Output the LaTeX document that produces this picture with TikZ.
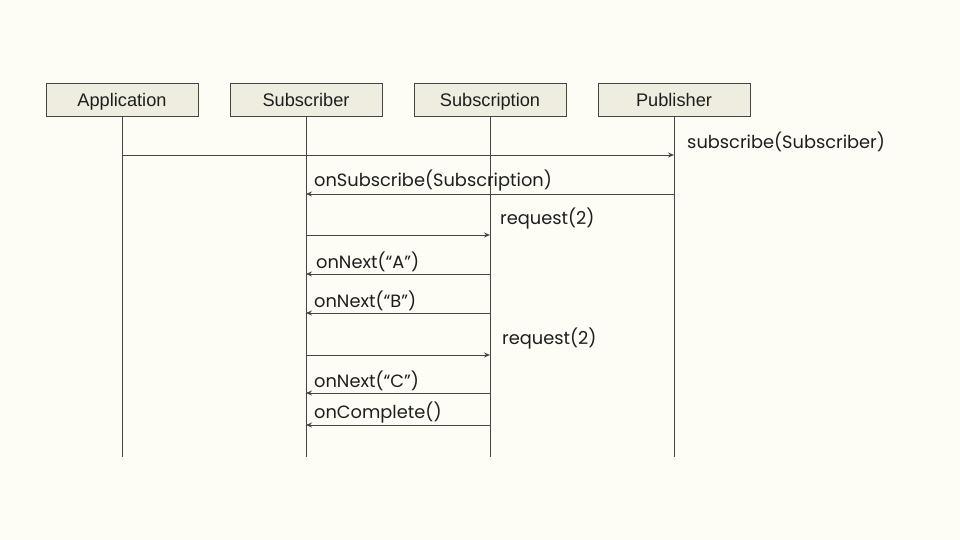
\documentclass[tikz,border=0pt]{standalone}
\usepackage{fontspec}
\usetikzlibrary{arrows.meta}
\setmainfont{Liberation Sans}
\newfontfamily\msgfont{Poppins}
\definecolor{bgcol}{HTML}{FDFDF6}
\definecolor{boxcol}{HTML}{EEEDE0}
\definecolor{linecol}{HTML}{454545}
\definecolor{txtcol}{HTML}{1E1E1E}
\begin{document}
\begin{tikzpicture}[x=1pt,y=-1pt,
 obj/.style={draw=linecol, fill=boxcol, line width=0.9pt, minimum width=152pt, minimum height=33pt, inner sep=0pt, text height=14.5pt, text depth=0pt, text=txtcol, font=\fontsize{18.2}{18}\selectfont},
 msg/.style={anchor=west, inner sep=0pt, text=txtcol, font=\msgfont\fontsize{17.8}{18}\selectfont},
 life/.style={draw=linecol, line width=0.9pt},
 call/.style={draw=linecol, line width=0.9pt, ->, >={Stealth[length=6pt,width=5pt]}}]
 \useasboundingbox[fill=bgcol] (0,0) rectangle (960,540); %背景
 \node[obj] (app) at (122,99.5) {Application}; %オブジェクト
 \node[obj] (sub) at (306,99.5) {Subscriber};
 \node[obj] (subn) at (490,99.5) {Subscription};
 \node[obj] (pub) at (674,99.5) {Publisher};
 \coordinate (appE) at (122,457); %ライフライン終点
 \coordinate (subE) at (306,457);
 \coordinate (subnE) at (490,457);
 \coordinate (pubE) at (674,457);
 \draw[life] (app)--(appE); %ライフライン
 \draw[life] (sub)--(subE);
 \draw[life] (subn)--(subnE);
 \draw[life] (pub)--(pubE);
 \coordinate (m1a) at (122,155); %subscribe
 \coordinate (m1b) at (674,155);
 \draw[call] (m1a)--(m1b);
 \node[msg] (l1) at (687,141.5) {subscribe(Subscriber)};
 \coordinate (m2a) at (674,194); %onSubscribe
 \coordinate (m2b) at (306,194);
 \draw[call] (m2a)--(m2b);
 \node[msg] (l2) at (314,180.5) {onSubscribe(Subscription)};
 \coordinate (m3a) at (306,235); %request
 \coordinate (m3b) at (490,235);
 \draw[call] (m3a)--(m3b);
 \node[msg] (l3) at (500,218.5) {request(2)};
 \coordinate (m4a) at (490,274); %onNext A
 \coordinate (m4b) at (306,274);
 \draw[call] (m4a)--(m4b);
 \node[msg] (l4) at (316,261.5) {onNext(“A”)};
 \coordinate (m5a) at (490,313); %onNext B
 \coordinate (m5b) at (306,313);
 \draw[call] (m5a)--(m5b);
 \node[msg] (l5) at (314,300.5) {onNext(“B”)};
 \coordinate (m6a) at (306,355); %request
 \coordinate (m6b) at (490,355);
 \draw[call] (m6a)--(m6b);
 \node[msg] (l6) at (502,338.5) {request(2)};
 \coordinate (m7a) at (490,393); %onNext C
 \coordinate (m7b) at (306,393);
 \draw[call] (m7a)--(m7b);
 \node[msg] (l7) at (314,380.5) {onNext(“C”)};
 \coordinate (m8a) at (490,425); %onComplete
 \coordinate (m8b) at (306,425);
 \draw[call] (m8a)--(m8b);
 \node[msg] (l8) at (314,412.5) {onComplete()};
\end{tikzpicture}
\end{document}
